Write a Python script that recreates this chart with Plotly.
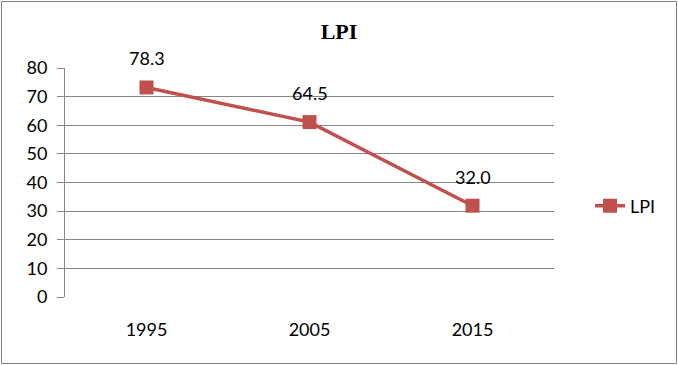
import plotly.graph_objects as go

categories = ["1995", "2005", "2015"]
values = [73.2, 61.1, 31.9]
labels = ["78.3", "64.5", "32.0"]
series_name = "LPI"
y_ticks = [0, 10, 20, 30, 40, 50, 60, 70, 80]

RED = "#C0504D"
GRID = "#868686"
FONT = "Lato"

W, H = 678, 365
L, R, T, B = 65, 124, 68, 68
pw, ph = W - L - R, H - T - B

fig = go.Figure()
fig.add_trace(go.Scatter(
    x=categories, y=values, name=series_name,
    mode="lines+markers",
    line=dict(color=RED, width=3.5),
    marker=dict(symbol="square", size=14, color=RED),
))

for i, (v, t) in enumerate(zip(values, labels)):
    fig.add_annotation(x=i, y=v, xref="x", yref="y", text=t, showarrow=False,
                       yshift=29, font=dict(family=FONT, size=18, color="#000000"))

def px_x(x):
    return (x - L) / pw

def px_y(y):
    return (H - B - y) / ph

fig.add_shape(type="rect", xref="paper", yref="paper",
              x0=px_x(1.5), x1=px_x(676.5), y0=px_y(363.5), y1=px_y(1.5),
              line=dict(color="#808080", width=1), layer="below")

fig.update_layout(
    width=W, height=H,
    margin=dict(l=L, r=R, t=T, b=B),
    paper_bgcolor="white", plot_bgcolor="white",
    title=dict(text="<b>LPI</b>", x=0.5, xref="container", xanchor="center",
               y=1 - 31 / H, yanchor="middle",
               font=dict(family="Liberation Serif", size=22, color="#000000")),
    font=dict(family=FONT, size=18, color="#000000"),
    showlegend=True,
    legend=dict(x=px_x(590), y=px_y(206), xanchor="left", yanchor="middle",
                font=dict(family=FONT, size=18), bgcolor="rgba(0,0,0,0)",
                itemwidth=30),
    xaxis=dict(type="category", range=[-0.5, 2.5], showgrid=False,
               showline=False, zeroline=False, ticks="",
               tickfont=dict(family=FONT, size=18), ticklabelstandoff=20),
    yaxis=dict(range=[0, 80], tickvals=y_ticks, showgrid=True, gridcolor=GRID,
               gridwidth=1, zeroline=False, showline=True, linecolor=GRID,
               linewidth=1, ticks="outside", ticklen=7, tickcolor=GRID,
               ticklabelstandoff=6, tickfont=dict(family=FONT, size=18)),
)

fig.write_html("out.html", config={"displayModeBar": False},
               post_script="document.body.style.margin='0';")
